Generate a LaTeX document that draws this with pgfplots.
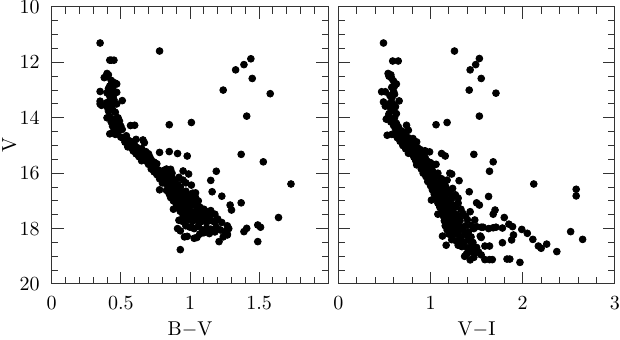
\documentclass[border=0pt]{standalone}
\usepackage{pgfplots}
\pgfplotsset{compat=1.18}
\pgfplotsset{cmd/.style={
    scale only axis, width=138.3pt, height=138.5pt,
    anchor=south west,
    ymin=10, ymax=20, y dir=reverse,
    ytick={10,12,...,20}, minor y tick num=3,
    tick align=inside, major tick length=6pt, minor tick length=3.3pt,
    axis line style={black!80, line width=0.5pt},
    tick style={black!80, line width=0.5pt},
    tick label style={font=\normalsize},
    x tick label style={anchor=center, yshift=-9.5pt},
    y tick label style={xshift=-2.5pt},
    xlabel style={at={(axis description cs:0.5,0)}, anchor=center, yshift=-23pt},
    ylabel style={at={(axis description cs:-0.153,0.5)}, anchor=center},
},
dots/.style={only marks, mark=*, mark size=1.7pt, black, mark options={draw=black, fill=black}}}
\begin{document}
\begin{tikzpicture}
\path[use as bounding box] (-25.85pt,-28pt) rectangle (284.15pt,142pt);
% left: B-V
\begin{axis}[cmd, at={(0pt,0pt)},
    xmin=0, xmax=2, xtick={0,0.5,...,2}, xticklabels={0,0.5,1,1.5,},
    minor x tick num=4,
    xlabel={B$-$V}, ylabel={V}]
\addplot[dots] coordinates {
(0.35,11.30)
(0.42,11.92)(0.43,11.92)(0.45,11.92)
(0.40,12.40)(0.41,12.45)(0.38,12.55)(0.39,12.52)
(0.43,12.65)(0.44,12.70)(0.46,12.75)(0.47,12.78)(0.42,12.85)(0.44,12.90)(0.41,12.95)
(0.35,13.05)(0.40,13.10)(0.43,13.00)(0.47,13.08)(0.45,13.15)(0.42,13.22)
(0.35,13.40)(0.36,13.55)(0.35,13.50)(0.40,13.45)(0.42,13.40)(0.45,13.35)(0.51,13.38)(0.40,13.60)(0.43,13.55)(0.47,13.50)(0.44,13.70)(0.41,13.75)(0.46,13.80)
(0.40,14.00)(0.42,13.95)(0.45,14.05)(0.48,14.00)(0.43,14.15)(0.46,14.20)(0.49,14.12)(0.44,14.30)(0.47,14.35)(0.50,14.30)(0.45,14.45)(0.48,14.50)(0.51,14.42)(0.42,14.58)(0.46,14.60)
(0.57,14.28)(0.60,14.27)
(0.50,14.70)(0.52,14.75)(0.54,14.65)(0.55,14.80)(0.53,14.88)(0.57,14.85)(0.56,14.95)(0.59,14.92)(0.61,14.78)(0.66,14.80)(0.67,14.90)
(0.55,15.05)(0.58,15.10)(0.60,15.00)(0.62,15.08)(0.59,15.20)(0.63,15.18)(0.65,15.12)(0.61,15.30)(0.64,15.28)(0.66,15.25)(0.68,15.22)(0.70,15.30)
(0.63,15.40)(0.66,15.45)(0.68,15.38)(0.71,15.42)(0.65,15.55)(0.69,15.58)(0.72,15.52)(0.74,15.60)(0.70,15.68)(0.73,15.72)(0.76,15.66)
(0.78,15.25)(0.85,15.22)(0.91,15.29)(0.98,15.38)
(0.72,15.85)(0.75,15.80)(0.77,15.88)(0.74,15.95)(0.79,15.98)(0.81,15.90)(0.83,15.85)(0.84,15.95)(0.86,15.86)(0.87,16.00)
(0.76,16.05)(0.79,16.10)(0.82,16.08)(0.78,16.20)(0.81,16.25)(0.84,16.18)(0.87,16.15)(0.80,16.35)(0.83,16.40)(0.86,16.32)(0.89,16.28)
(0.85,16.50)(0.88,16.45)(0.91,16.40)(0.78,16.60)(0.83,16.62)(0.87,16.60)(0.90,16.55)(0.93,16.50)
(0.95,15.92)(0.99,16.03)(0.92,16.15)(0.95,16.25)(0.97,16.35)(1.01,16.43)(1.04,16.71)
(0.85,16.75)(0.88,16.72)(0.91,16.70)(0.94,16.68)(0.97,16.65)(0.86,16.88)(0.89,16.85)(0.92,16.82)(0.95,16.80)(0.99,16.78)(1.02,16.72)
(0.88,17.00)(0.91,16.98)(0.94,16.95)(0.97,16.92)(1.00,16.90)(1.04,16.88)
(0.90,17.10)(0.93,17.12)(0.96,17.08)(0.99,17.05)(1.02,17.02)(1.06,17.00)(0.88,17.30)(0.91,17.25)(0.94,17.22)(0.97,17.20)(1.00,17.18)(1.03,17.15)(1.07,17.22)(1.10,17.30)
(0.93,17.38)(0.96,17.35)(0.99,17.32)(1.02,17.40)(1.05,17.36)(1.08,17.42)(1.12,17.38)(1.15,17.35)
(0.95,17.55)(0.98,17.50)(1.01,17.52)(1.04,17.55)(1.07,17.58)(1.10,17.52)(1.14,17.55)(1.18,17.48)
(0.92,17.70)(0.95,17.75)(0.99,17.68)(1.02,17.72)(1.05,17.70)(1.08,17.75)(1.12,17.68)(1.16,17.72)(1.20,17.65)(1.23,17.78)
(1.07,17.77)(1.12,17.77)(1.18,17.77)(1.01,17.93)
(0.91,18.00)(0.93,18.08)(0.97,17.90)(1.00,17.95)(1.03,18.00)(1.06,17.92)(1.09,18.05)(1.12,17.98)(1.15,18.02)(1.19,17.95)(1.22,18.05)(1.27,17.90)(1.28,18.00)(1.25,18.12)
(1.10,18.08)(1.13,18.08)(1.17,18.08)
(0.96,18.30)(0.98,18.28)(1.03,18.35)(1.05,18.32)(1.07,18.20)(1.10,18.15)(1.14,18.18)(1.18,18.12)(1.27,18.20)(1.27,18.23)(1.24,18.30)
(0.93,18.76)(1.21,18.47)
(1.15,16.26)(1.16,16.67)(1.19,15.93)(1.23,16.83)(1.29,17.15)(1.30,17.33)
(1.37,17.07)(1.41,17.99)(1.39,18.11)(1.49,17.87)(1.51,17.95)(1.49,18.47)(1.64,17.60)
(0.78,11.59)(1.44,11.87)(1.39,12.08)(1.33,12.27)(1.45,12.58)(1.24,13.00)(1.58,13.13)
(1.41,13.94)(0.85,14.25)(1.01,14.17)(1.37,15.32)(1.53,15.59)(1.73,16.39)
};
\end{axis}
% right: V-I
\begin{axis}[cmd, at={(143.3pt,0pt)},
    xmin=0, xmax=3, xtick={0,1,2,3}, minor x tick num=4,
    yticklabels={}, xlabel={V$-$I}]
\addplot[dots] coordinates {
(0.49,11.30)(1.26,11.59)(1.53,11.86)(1.49,12.08)(1.43,12.27)(1.55,12.58)(1.42,13.00)(1.71,13.11)
(1.53,13.94)(1.06,14.25)(1.18,14.17)(1.47,15.32)(1.68,15.59)(1.64,15.93)(2.12,16.39)(2.58,16.58)(2.58,16.82)
(2.52,18.11)(2.65,18.39)(2.37,18.83)(2.26,18.56)(2.17,18.63)(2.20,18.71)(2.11,18.39)(2.05,18.17)(1.99,18.03)
(1.97,19.22)(1.83,19.10)(1.86,19.10)(1.88,18.41)(1.90,18.23)(1.78,18.51)(1.85,17.84)(1.89,17.93)(1.80,17.60)
(1.70,17.33)(1.68,17.48)(1.63,16.84)(1.50,17.07)(1.53,17.15)(1.42,16.67)(1.31,16.27)(1.21,16.00)(1.23,16.03)
(1.12,15.29)(1.16,15.38)(0.94,15.19)(0.99,15.23)(1.43,17.39)
(1.55,17.95)(1.57,17.95)(1.63,18.00)(1.68,17.97)(1.71,17.95)(1.78,17.98)(1.48,17.69)(1.50,17.93)
(1.55,18.32)(1.54,18.27)(1.59,18.63)(1.64,18.63)(1.50,18.68)(1.52,18.84)(1.55,18.95)(1.59,19.12)(1.64,19.12)(1.67,19.12)
(1.37,19.00)(1.43,19.13)(1.47,19.04)(1.44,18.63)(1.39,18.92)(1.17,18.60)(1.13,18.27)(1.36,18.60)
(0.59,11.95)(0.65,11.95)
(0.54,12.40)(0.55,12.50)(0.57,12.45)(0.58,12.58)(0.60,12.68)(0.63,12.78)(0.61,12.85)(0.58,12.90)
(0.47,13.06)(0.51,13.06)(0.60,13.05)(0.61,13.15)(0.56,13.20)(0.58,13.30)
(0.49,13.43)(0.51,13.58)(0.66,13.39)(0.56,13.48)(0.60,13.52)(0.62,13.60)(0.57,13.68)(0.60,13.75)(0.63,13.85)(0.55,13.85)
(0.54,13.97)(0.61,14.00)(0.52,14.05)(0.59,14.10)(0.63,14.20)(0.57,14.15)(0.60,14.28)(0.65,14.32)(0.62,14.40)
(0.74,14.27)(0.76,14.45)(0.53,14.63)(0.67,14.45)(0.70,14.50)
(0.58,14.60)(0.62,14.62)(0.66,14.58)(0.69,14.65)(0.72,14.60)(0.64,14.72)(0.68,14.75)(0.72,14.78)(0.76,14.72)(0.81,14.75)(0.85,14.87)
(0.67,14.85)(0.71,14.90)(0.75,14.92)(0.79,14.88)
(0.70,15.00)(0.74,15.05)(0.78,15.02)(0.82,15.00)(0.86,15.08)(0.73,15.12)(0.77,15.15)(0.81,15.18)(0.85,15.20)(0.89,15.15)
(0.76,15.28)(0.80,15.30)(0.84,15.32)(0.88,15.30)(0.92,15.35)
(0.82,15.42)(0.86,15.45)(0.90,15.48)(0.94,15.42)(0.84,15.55)(0.88,15.58)(0.92,15.60)(0.96,15.55)(1.00,15.62)
(0.85,15.70)(0.89,15.72)(0.93,15.70)(0.97,15.75)(1.02,15.70)(1.06,15.68)
(0.90,15.85)(0.94,15.88)(0.98,15.82)(1.02,15.90)(0.92,16.00)(0.96,16.02)(1.00,15.98)(1.04,16.05)(1.08,16.00)
(0.95,16.12)(0.99,16.15)(1.03,16.18)(1.07,16.12)(1.12,16.20)(0.97,16.30)(1.01,16.28)(1.05,16.32)(1.09,16.35)(1.14,16.28)(1.18,16.25)
(1.00,16.45)(1.04,16.48)(1.08,16.42)(1.12,16.50)(1.16,16.45)(1.02,16.60)(1.06,16.62)(1.10,16.58)(1.14,16.65)(1.19,16.60)(1.24,16.55)
(1.04,16.75)(1.08,16.78)(1.12,16.72)(1.16,16.80)(1.21,16.75)(1.27,16.78)
(1.01,16.97)(1.06,16.92)(1.10,16.95)(1.14,16.90)(1.18,16.98)(1.23,16.92)(1.30,16.90)
(1.08,17.08)(1.12,17.12)(1.16,17.05)(1.20,17.10)(1.25,17.15)(1.30,17.08)
(1.10,17.22)(1.14,17.25)(1.18,17.20)(1.22,17.28)(1.27,17.22)(1.33,17.30)
(1.08,17.48)(1.12,17.40)(1.16,17.45)(1.20,17.38)(1.24,17.42)(1.28,17.48)(1.35,17.45)
(1.14,17.55)(1.18,17.60)(1.22,17.55)(1.26,17.62)(1.31,17.58)(1.38,17.55)
(1.15,17.72)(1.19,17.75)(1.23,17.70)(1.27,17.78)(1.32,17.72)(1.40,17.68)
(1.16,17.90)(1.20,17.88)(1.24,17.92)(1.28,17.85)(1.33,17.95)(1.38,17.90)(1.44,17.88)
(1.18,18.05)(1.22,18.08)(1.26,18.02)(1.30,18.10)(1.35,18.05)(1.41,18.12)(1.47,18.00)
(1.20,18.20)(1.24,18.25)(1.29,18.20)(1.33,18.28)(1.38,18.22)(1.44,18.30)
(1.23,18.40)(1.28,18.45)(1.32,18.38)(1.36,18.48)(1.41,18.42)(1.46,18.50)
(1.30,18.60)(1.34,18.65)(1.40,18.70)(1.45,18.75)(1.42,18.85)(1.48,18.90)
};
\end{axis}
\end{tikzpicture}
\end{document}
